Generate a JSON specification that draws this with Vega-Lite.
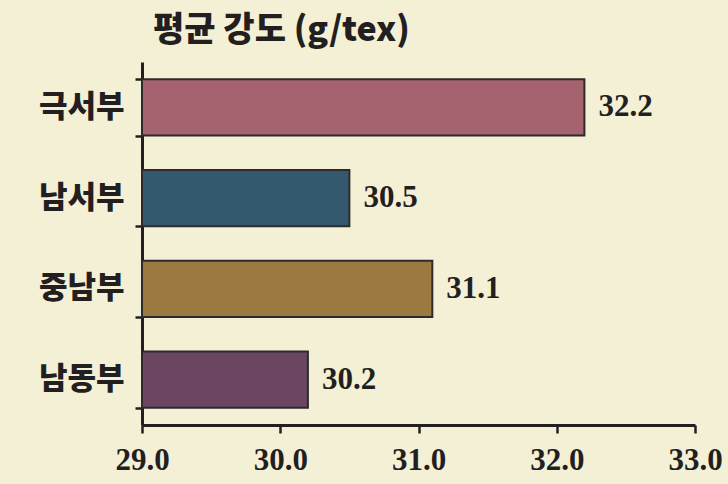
{
  "$schema": "https://vega.github.io/schema/vega-lite/v6.json",
  "width": 553,
  "height": 363,
  "autosize": {"type": "none"},
  "padding": {"left": 142, "top": 62, "right": 33, "bottom": 59},
  "background": "#f4f0d6",
  "title": {
    "text": "평균 강도 (g/tex)",
    "anchor": "start",
    "frame": "group",
    "dx": 11,
    "offset": -2,
    "font": "Noto Sans CJK KR",
    "fontSize": 34,
    "fontWeight": 900,
    "color": "#231f20"
  },
  "config": {
    "view": {"stroke": null},
    "axis": {"grid": false}
  },
  "data": {
    "values": [
      {"region": "극서부", "strength": 32.2, "color": "#a56370"},
      {"region": "남서부", "strength": 30.5, "color": "#34596f"},
      {"region": "중남부", "strength": 31.1, "color": "#9b7940"},
      {"region": "남동부", "strength": 30.2, "color": "#6b4663"}
    ]
  },
  "encoding": {
    "y": {
      "field": "region",
      "type": "nominal",
      "sort": null,
      "scale": {"paddingInner": 0.38, "paddingOuter": 0.19},
      "axis": {
        "title": null,
        "domainColor": "#231f20",
        "domainWidth": 3,
        "tickColor": "#231f20",
        "tickWidth": 2.5,
        "tickSize": 7,
        "tickBand": "extent",
        "labelFont": "Noto Sans CJK KR",
        "labelFontSize": 31,
        "labelFontWeight": 900,
        "labelColor": "#231f20",
        "labelPadding": 11
      }
    },
    "x": {
      "field": "strength",
      "type": "quantitative",
      "scale": {"domain": [29, 33], "zero": false, "nice": false},
      "axis": {
        "title": null,
        "values": [29, 30, 31, 32, 33],
        "format": ".1f",
        "domainColor": "#231f20",
        "domainWidth": 3,
        "tickColor": "#231f20",
        "tickWidth": 2.5,
        "tickSize": 8,
        "labelFont": "Liberation Serif",
        "labelFontSize": 31,
        "labelFontWeight": "bold",
        "labelColor": "#231f20",
        "labelPadding": 12,
        "labelFlush": false
      }
    }
  },
  "layer": [
    {
      "mark": {"type": "bar", "stroke": "#2b2b2b", "strokeWidth": 2},
      "encoding": {
        "x2": {"datum": 29},
        "color": {"field": "color", "type": "nominal", "scale": null, "legend": null}
      }
    },
    {
      "mark": {
        "type": "text",
        "align": "left",
        "baseline": "middle",
        "dx": 14,
        "font": "Liberation Serif",
        "fontSize": 31,
        "fontWeight": "bold",
        "color": "#231f20"
      },
      "encoding": {
        "text": {"field": "strength", "type": "quantitative", "format": ".1f"}
      }
    }
  ]
}
